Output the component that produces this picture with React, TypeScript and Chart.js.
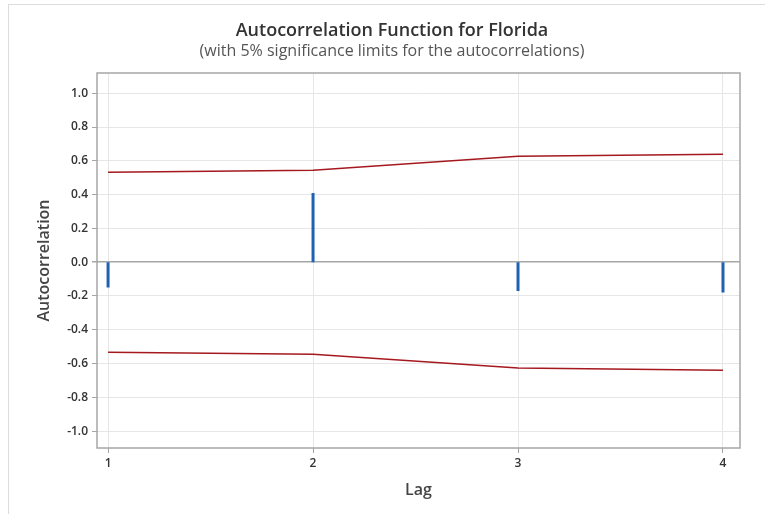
import React, { useEffect, useRef } from "react";
import { Chart, registerables } from "chart.js";

Chart.register(...registerables);

const lags = [1, 2, 3, 4];
const acfValues = [-0.15, 0.41, -0.17, -0.18];
const upperLimit = [0.533, 0.545, 0.627, 0.639];
const lowerLimit = [-0.533, -0.545, -0.627, -0.639];
const yTicks = [-1.0, -0.8, -0.6, -0.4, -0.2, 0.0, 0.2, 0.4, 0.6, 0.8, 1.0];
const xTicks = [1, 2, 3, 4];

const TITLE = "Autocorrelation Function for Florida";
const SUBTITLE = "(with 5% significance limits for the autocorrelations)";
const FONT = "'Open Sans', 'Noto Sans', sans-serif";

export default function App() {
  const ref = useRef<HTMLCanvasElement | null>(null);

  useEffect(() => {
    if (!ref.current) return;
    const stems: any[] = [];
    lags.forEach((l, i) => {
      stems.push({ x: l, y: 0 });
      stems.push({ x: l, y: acfValues[i] });
      stems.push({ x: l, y: null });
    });

    const framePlugin = {
      id: "frame",
      afterDraw(chart: any) {
        const { ctx, chartArea } = chart;
        ctx.save();
        ctx.strokeStyle = "#a6a6a6";
        ctx.lineWidth = 1.5;
        ctx.strokeRect(chartArea.left, chartArea.top, chartArea.right - chartArea.left, chartArea.bottom - chartArea.top);
        ctx.textAlign = "center";
        ctx.textBaseline = "middle";
        ctx.fillStyle = "#333333";
        ctx.font = `600 18px ${FONT}`;
        ctx.fillText(TITLE, 392, 31);
        ctx.fillStyle = "#555555";
        ctx.font = `400 16px ${FONT}`;
        ctx.fillText(SUBTITLE, 392, 51);
        ctx.restore();
      },
    };

    const chart = new Chart(ref.current, {
      type: "line",
      data: {
        datasets: [
          {
            label: "Upper",
            data: lags.map((l, i) => ({ x: l, y: upperLimit[i] })),
            borderColor: "#a5191e",
            borderWidth: 1.5,
            pointRadius: 0,
            fill: false,
          },
          {
            label: "Lower",
            data: lags.map((l, i) => ({ x: l, y: lowerLimit[i] })),
            borderColor: "#a5191e",
            borderWidth: 1.5,
            pointRadius: 0,
            fill: false,
          },
          {
            label: "ACF",
            data: stems,
            borderColor: "#1f62b4",
            borderWidth: 3,
            borderCapStyle: "butt",
            pointRadius: 0,
            spanGaps: false,
            fill: false,
          },
        ],
      },
      options: {
        animation: false,
        responsive: false,
        layout: { padding: { left: 30, right: 25, top: 73, bottom: 10 } },
        plugins: {
          legend: { display: false },
          tooltip: { enabled: false },
          title: { display: false },
        },
        scales: {
          x: {
            type: "linear",
            min: 0.946,
            max: 4.083,
            afterBuildTicks: (s: any) => {
              s.ticks = xTicks.map((v) => ({ value: v }));
            },
            afterFit: (s: any) => {
              s.height = 56;
            },
            border: { display: false },
            grid: {
              color: "#e6e6e6",
              lineWidth: 1,
              tickColor: "#a6a6a6",
              tickLength: 5,
              drawTicks: true,
            },
            ticks: {
              color: "#333333",
              padding: 3,
              font: { family: FONT, size: 12, weight: "600" },
              callback: (v: any) => String(v),
            },
            title: {
              display: true,
              text: "Lag",
              color: "#444444",
              font: { family: FONT, size: 16, weight: "600" },
              padding: { top: 0, bottom: 4 },
            },
          },
          y: {
            type: "linear",
            min: -1.1,
            max: 1.12,
            afterBuildTicks: (s: any) => {
              s.ticks = yTicks.map((v) => ({ value: v }));
            },
            afterFit: (s: any) => {
              s.width = 67;
            },
            border: { display: false },
            grid: {
              color: (c: any) => (c.tick && Math.abs(c.tick.value) < 1e-9 ? "#a6a6a6" : "#e6e6e6"),
              lineWidth: (c: any) => (c.tick && Math.abs(c.tick.value) < 1e-9 ? 1.5 : 1),
              tickColor: "#a6a6a6",
              tickLength: 5,
              drawTicks: true,
            },
            ticks: {
              color: "#333333",
              padding: 4,
              font: { family: FONT, size: 12, weight: "600" },
              callback: (v: any) => Number(v).toFixed(1),
            },
            title: {
              display: true,
              text: "Autocorrelation",
              color: "#444444",
              font: { family: FONT, size: 16, weight: "600" },
              padding: { top: 5, bottom: 0 },
            },
          },
        },
      },
      plugins: [framePlugin],
    });
    return () => chart.destroy();
  }, []);

  return (
    <div style={{ position: "absolute", left: 0, top: 0, width: 765, height: 514, background: "#fff" }}>
      <div
        style={{
          position: "absolute",
          left: 8,
          top: 4,
          width: 765,
          height: 520,
          borderTop: "1px solid #dcdcdc",
          borderLeft: "1px solid #dcdcdc",
        }}
      />
      <canvas ref={ref} width={765} height={514} style={{ position: "absolute", left: 0, top: 0, display: "block" }} />
    </div>
  );
}
